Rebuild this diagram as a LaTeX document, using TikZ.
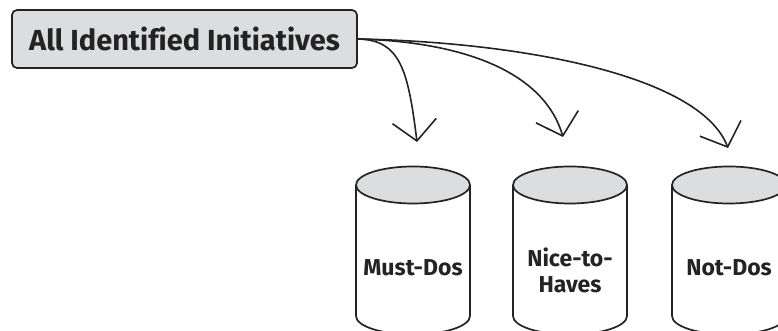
\documentclass[tikz,border=0pt]{standalone}
\usepackage{fontspec}
\setmainfont{Fira Sans}[Ligatures=NoCommon]
\usetikzlibrary{arrows.meta}
\definecolor{boxgray}{RGB}{220,221,223}
\definecolor{inkc}{RGB}{35,35,35}
\tikzset{
  headbox/.style={draw=inkc, line width=1.7pt, fill=boxgray, rounded corners=5pt,
    minimum width=345pt, minimum height=58pt, inner sep=0pt,
    font=\fontsize{29}{31}\selectfont\bfseries, text=inkc},
  flowarrow/.style={draw=inkc, line width=1.6pt,
    -{Straight Barb[length=20pt, width=44pt, line width=1.6pt]}},
  cyltext/.style={font=\fontsize{23}{26}\selectfont\bfseries, text=inkc, align=center, inner sep=0pt},
  cylline/.style={draw=inkc, line width=1.7pt},
}
\newcommand{\mycyl}[1]{%
  \fill[white] (#1-57,146) -- (#1-57,15) arc[start angle=180, end angle=360, x radius=57, y radius=18.5] -- (#1+57,146) -- cycle;
  \draw[cylline] (#1-57,146) -- (#1-57,15) arc[start angle=180, end angle=360, x radius=57, y radius=18.5] -- (#1+57,146);
  \draw[cylline, fill=boxgray] (#1,146) ellipse[x radius=57, y radius=18.5];
}
\begin{document}
\begin{tikzpicture}[x=1pt, y=1pt]
\useasboundingbox (0,0) rectangle (778,331);
\node[headbox] (all) at (184.5,292) {All Identified Initiatives};
\coordinate (t1) at (417,189);
\coordinate (t2) at (563,194);
\coordinate (t3) at (728,183);
\draw[flowarrow] (all.east) .. controls (400,291) and (408,262) .. (t1);
\draw[flowarrow] (all.east) .. controls (470,289) and (545,256) .. (t2);
\draw[flowarrow] (all.east) .. controls (520,289) and (700,256) .. (t3);
\mycyl{413}
\mycyl{570}
\mycyl{729}
\node[cyltext] (must) at (413,63) {Must-Dos};
\node[cyltext] (nice) at (570,61) {Nice-to-\\Haves};
\node[cyltext] (not) at (729,63) {Not-Dos};
\end{tikzpicture}
\end{document}
